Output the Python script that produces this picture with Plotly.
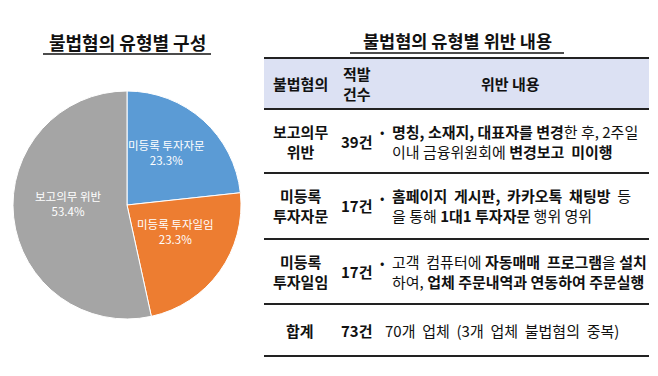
import math
import plotly.graph_objects as go

W, H = 658, 376
FONT = "Noto Sans CJK KR"

# ---- data ----
pie_labels = ["미등록 투자자문", "미등록 투자일임", "보고의무 위반"]
pie_values = [17, 17, 39]
pie_colors = ["#5B9BD5", "#ED7D31", "#A5A5A5"]

left_title = "불법혐의 유형별 구성"
right_title = "불법혐의 유형별 위반 내용"

header_cols = ["불법혐의", "적발<br>건수", "위반 내용"]
row_types = ["보고의무<br>위반", "미등록<br>투자자문", "미등록<br>투자일임", "합계"]
row_counts = ["39건", "17건", "17건", "73건"]
row_desc = [
    "<b>명칭, 소재지, 대표자를 변경</b>한 후, 2주일<br>이내 금융위원회에 <b>변경보고  미이행</b>",
    "<b>홈페이지  게시판,  카카오톡  채팅방</b>  등<br>을 통해 <b>1대1 투자자문</b> 행위 영위",
    "고객  컴퓨터에 <b>자동매매  프로그램</b>을 <b>설치</b><br>하여, <b>업체 주문내역과 연동하여 주문실행</b>",
    "70개  업체  (3개  업체  불법혐의  중복)",
]


def px(x):
    return x / W


def py(y):
    return 1 - y / H


fig = go.Figure()

# pie
cx, cy, r = 119, 197, 114
fig.add_trace(go.Pie(
    labels=pie_labels, values=pie_values, sort=False, direction="clockwise",
    rotation=0, marker=dict(colors=pie_colors, line=dict(color="white", width=1)),
    textinfo="none",
    domain=dict(x=[px(cx - r), px(cx + r)], y=[py(cy + r), py(cy - r)]),
    showlegend=False, hoverinfo="label+value+percent",
))

shapes = []
annotations = []

# pie labels placed at each slice's mid-angle (computed from the data)
total = sum(pie_values)
cum = 0
for lab, v in zip(pie_labels, pie_values):
    mid = (cum + v / 2) / total * 2 * math.pi
    cum += v
    rr = r * 0.52
    lx = cx + rr * math.sin(mid)
    ly = cy - rr * math.cos(mid) - 8
    annotations.append(dict(text=f"{lab}<br>{v / total * 100:.1f}%", x=px(lx), y=py(ly),
                            xref="paper", yref="paper", showarrow=False,
                            xanchor="center", yanchor="middle", align="center",
                            font=dict(family=FONT, size=11.5, color="white")))

# left title
annotations.append(dict(text=f"<b>{left_title}</b>", x=px(119), y=py(34), xref="paper", yref="paper",
                        showarrow=False, xanchor="center", yanchor="middle",
                        font=dict(family=FONT, size=18, color="#111")))
shapes.append(dict(type="line", xref="paper", yref="paper", x0=px(35), x1=px(203), y0=py(46), y1=py(46),
                   line=dict(color="#111", width=1.5)))

# right title
annotations.append(dict(text=f"<b>{right_title}</b>", x=px(449), y=py(33), xref="paper", yref="paper",
                        showarrow=False, xanchor="center", yanchor="middle",
                        font=dict(family=FONT, size=17.5, color="#111")))
shapes.append(dict(type="line", xref="paper", yref="paper", x0=px(342), x1=px(556), y0=py(45), y1=py(45),
                   line=dict(color="#111", width=1.5)))

# table geometry
tx0, tx1 = 256, 641
header_top, header_bot = 50, 101
row_bounds = [101, 165, 231, 296, 348]
col1_cx, col2_cx, desc_x = 292, 349, 382

shapes.append(dict(type="rect", xref="paper", yref="paper", x0=px(tx0), x1=px(tx1),
                   y0=py(header_bot), y1=py(header_top), fillcolor="#DCE1F3", line=dict(width=0), layer="below"))
for yy in [header_top] + row_bounds:
    shapes.append(dict(type="line", xref="paper", yref="paper", x0=px(tx0), x1=px(tx1), y0=py(yy), y1=py(yy),
                       line=dict(color="#222", width=2)))

# header text
for text, x in zip(header_cols, [col1_cx, col2_cx, 503]):
    annotations.append(dict(text=f"<b>{text}</b>", x=px(x), y=py(75), xref="paper", yref="paper",
                            showarrow=False, xanchor="center", yanchor="middle",
                            font=dict(family=FONT, size=15, color="#111")))

# rows
for i in range(4):
    ymid = (row_bounds[i] + row_bounds[i + 1]) / 2
    annotations.append(dict(text=f"<b>{row_types[i]}</b>", x=px(col1_cx), y=py(ymid), xref="paper", yref="paper",
                            showarrow=False, xanchor="center", yanchor="middle",
                            font=dict(family=FONT, size=15, color="#111")))
    annotations.append(dict(text=f"<b>{row_counts[i]}</b>", x=px(col2_cx), y=py(ymid), xref="paper", yref="paper",
                            showarrow=False, xanchor="center", yanchor="middle",
                            font=dict(family=FONT, size=15, color="#111")))
    if i < 3:
        annotations.append(dict(text="•", x=px(374), y=py(ymid - 9), xref="paper", yref="paper",
                                showarrow=False, xanchor="center", yanchor="middle",
                                font=dict(family=FONT, size=13, color="#111")))
        annotations.append(dict(text=row_desc[i], x=px(desc_x), y=py(ymid), xref="paper", yref="paper",
                                showarrow=False, xanchor="left", yanchor="middle", align="left",
                                font=dict(family=FONT, size=15, color="#111")))
    else:
        annotations.append(dict(text=row_desc[i], x=px(375), y=py(ymid), xref="paper", yref="paper",
                                showarrow=False, xanchor="left", yanchor="middle", align="left",
                                font=dict(family=FONT, size=15, color="#111")))

fig.update_layout(width=W, height=H, margin=dict(l=0, r=0, t=0, b=0),
                  paper_bgcolor="white", plot_bgcolor="white",
                  shapes=shapes, annotations=annotations, font=dict(family=FONT))

fig.write_html("out.html")
